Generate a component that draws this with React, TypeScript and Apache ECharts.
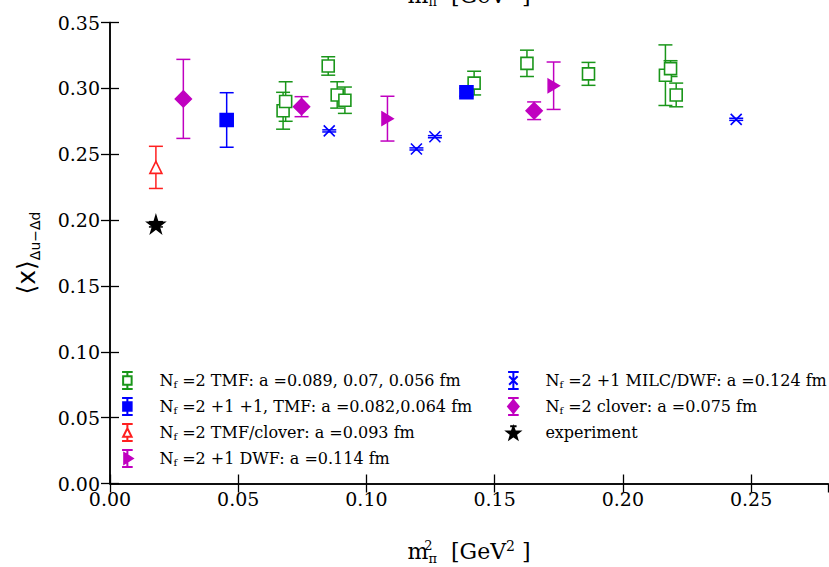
import React, { useEffect, useRef } from "react";
import * as echarts from "echarts";

// ---- data (x: m_pi^2 [GeV^2], y: <x>_{Δu-Δd}, err) ----
const tmfX = [0.0675, 0.0685, 0.0851, 0.0886, 0.0916, 0.142, 0.1626, 0.1866, 0.2166, 0.2186, 0.2208];
const tmfY = [0.283, 0.290, 0.317, 0.295, 0.291, 0.304, 0.319, 0.311, 0.310, 0.315, 0.295];
const tmfErr = [0.014, 0.015, 0.007, 0.010, 0.010, 0.009, 0.010, 0.0087, 0.023, 0.006, 0.009];

const tmf211X = [0.0455, 0.139];
const tmf211Y = [0.276, 0.297];
const tmf211Err = [0.0207, 0.003];

const tmfCloverX = [0.0179];
const tmfCloverY = [0.240];
const tmfCloverErr = [0.016];

const dwfX = [0.1082, 0.173];
const dwfY = [0.277, 0.302];
const dwfErr = [0.017, 0.018];

const milcX = [0.0855, 0.1195, 0.1267, 0.2442];
const milcY = [0.2677, 0.254, 0.2633, 0.2765];
const milcErr = [0.0008, 0.0008, 0.0008, 0.0008];

const cloverX = [0.0286, 0.0747, 0.1654];
const cloverY = [0.292, 0.2861, 0.283];
const cloverErr = [0.030, 0.0076, 0.0067];

const expX = [0.0179];
const expY = [0.1968];
const expErr = [0.002];

const xTicks = { min: 0, max: 0.28, interval: 0.05 };
const yTicks = { min: 0, max: 0.35, interval: 0.05 };

const names = [
  "Nf =2 TMF: a =0.089, 0.07, 0.056 fm",
  "Nf =2 +1 +1, TMF: a =0.082,0.064 fm",
  "Nf =2 TMF/clover: a =0.093 fm",
  "Nf =2 +1 DWF: a =0.114 fm",
  "Nf =2 +1 MILC/DWF: a =0.124 fm",
  "Nf =2 clover: a =0.075 fm",
  "experiment",
];

const GREEN = "#1a961a";
const BLUE = "#0000ff";
const RED = "#ff2020";
const MAG = "#c000c0";
const BLACK = "#000000";
const SERIF = "DejaVu Serif";

const STAR = "path://M50,0 L61,35 L98,35 L68,57 L79,91 L50,70 L21,91 L32,57 L2,35 L39,35 Z";
const XMARK = "path://M0,0 L10,10 M10,0 L0,10";
const RTRI = "path://M0,0 L10,6 L0,12 Z";

// every legend icon shares the same 12x16 bounding box
const FRAME = "M0,1 L0,1 M12,17 L12,17 ";
const BAR = "M1,1 L11,1 M6,1 L6,17 M1,17 L11,17 ";
const icons = [
  "path://" + FRAME + "M1,1 L11,1 M6,1 L6,5 M6,13 L6,17 M1,17 L11,17 M2,5 L10,5 L10,13 L2,13 Z",
  "path://" + FRAME + "M1,1 L11,1 M6,1 L6,5 M6,13 L6,17 M1,17 L11,17 M2,5 L10,5 L10,13 L2,13 Z",
  "path://" + FRAME + "M1,1 L11,1 M6,1 L6,5 M6,13 L6,17 M1,17 L11,17 M6,5 L10,13 L2,13 Z",
  "path://" + FRAME + BAR + "M3,4 L11,9 L3,14 Z",
  "path://" + FRAME + BAR + "M2,5 L10,13 M10,5 L2,13",
  "path://" + FRAME + BAR + "M6,3 L11,9 L6,15 L1,9 Z",
  "path://" + FRAME + "M3,3 L9,3 M6,3 L6,5 M6,3.8 L7.5,8 L11.9,8.1 L8.4,10.8 L9.6,15 L6,12.5 L2.4,15 L3.6,10.8 L0.1,8.1 L4.5,8 Z",
];

const zip = (xs: number[], ys: number[], es: number[]) => xs.map((x, i) => [x, ys[i], es[i]]);

const errRender = (color: string) => (params: any, api: any) => {
  const x = api.value(0);
  const y = api.value(1);
  const e = api.value(2);
  const top = api.coord([x, y + e]);
  const bot = api.coord([x, y - e]);
  const hw = 7;
  const style = { stroke: color, lineWidth: 1.5 };
  return {
    type: "group",
    children: [
      { type: "line", shape: { x1: top[0], y1: top[1], x2: bot[0], y2: bot[1] }, style },
      { type: "line", shape: { x1: top[0] - hw, y1: top[1], x2: top[0] + hw, y2: top[1] }, style },
      { type: "line", shape: { x1: bot[0] - hw, y1: bot[1], x2: bot[0] + hw, y2: bot[1] }, style },
    ],
  };
};

const xNameRich = {
  m: { fontFamily: SERIF, fontSize: 22, lineHeight: 26, verticalAlign: "middle", color: "#000" },
  sup: { fontFamily: SERIF, fontSize: 13, verticalAlign: "top", width: 0.1, color: "#000" },
  sub: { fontFamily: SERIF, fontSize: 13, verticalAlign: "bottom", color: "#000" },
  sup2: { fontFamily: SERIF, fontSize: 14, verticalAlign: "top", lineHeight: 24, color: "#000" },
};
const xNameText = "{m|m}{sup|2}{sub|π}{m|  [GeV}{sup2|2}{m| ]}";

export default function App() {
  const ref = useRef<HTMLDivElement>(null);
  useEffect(() => {
    if (!ref.current) return;
    const chart = echarts.init(ref.current, null, { renderer: "svg" });

    const groups = [
      { name: names[0], data: zip(tmfX, tmfY, tmfErr), color: GREEN, symbol: "rect", size: 12, fill: "#ffffff" },
      { name: names[1], data: zip(tmf211X, tmf211Y, tmf211Err), color: BLUE, symbol: "rect", size: 13, fill: BLUE },
      { name: names[2], data: zip(tmfCloverX, tmfCloverY, tmfCloverErr), color: RED, symbol: "triangle", size: 12, fill: "#ffffff" },
      { name: names[3], data: zip(dwfX, dwfY, dwfErr), color: MAG, symbol: RTRI, size: [11, 13], fill: MAG },
      { name: names[4], data: zip(milcX, milcY, milcErr), color: BLUE, symbol: XMARK, size: 11, fill: BLUE },
      { name: names[5], data: zip(cloverX, cloverY, cloverErr), color: MAG, symbol: "diamond", size: [16, 16], fill: MAG },
      { name: names[6], data: zip(expX, expY, expErr), color: BLACK, symbol: STAR, size: 17, fill: BLACK },
    ];

    const series: any[] = [];
    groups.forEach((g) => {
      series.push({
        type: "custom",
        renderItem: errRender(g.color),
        data: g.data,
        encode: { x: 0, y: 1 },
        z: 2,
        silent: true,
      });
    });
    groups.forEach((g) => {
      series.push({
        type: "scatter",
        name: g.name,
        data: g.data.map((d) => [d[0], d[1]]),
        symbol: g.symbol,
        symbolSize: g.size,
        itemStyle: { color: g.fill, borderColor: g.color, borderWidth: 1.6, opacity: 1 },
        z: 3,
      });
    });

    const legendFormatter = (n: string) => n.replace(/^Nf /, "N{s|f} ");
    const legendText = {
      fontFamily: SERIF,
      fontSize: 16,
      color: "#000",
      lineHeight: 17,
      rich: {
        s: { fontFamily: SERIF, fontSize: 10, verticalAlign: "bottom", color: "#000", lineHeight: 17 },
      },
    };
    const mkLegend = (idx: number[], left: number) => ({
      orient: "vertical",
      left,
      top: 371,
      itemWidth: 54,
      itemHeight: 17,
      itemGap: 7,
      padding: 0,
      selectedMode: false,
      formatter: legendFormatter,
      textStyle: legendText,
      data: idx.map((i) => ({ name: names[i], icon: icons[i] })),
    });

    const axisLine = { show: true, lineStyle: { color: "#000", width: 1.5 } };
    const tick = { show: true, inside: true, length: 9, lineStyle: { color: "#000", width: 1.3 } };

    chart.setOption({
      animation: false,
      backgroundColor: "#ffffff",
      grid: { left: 110, right: 1, top: 22.5, bottom: 83.5, containLabel: false, outerBoundsMode: "none" },
      legend: [mkLegend([0, 1, 2, 3], 120), mkLegend([4, 5, 6], 506)],
      xAxis: [
        {
          type: "value",
          ...xTicks,
          position: "bottom",
          axisLine,
          axisTick: tick,
          splitLine: { show: false },
          axisLabel: {
            fontFamily: SERIF,
            fontSize: 19,
            color: "#000",
            margin: 6,
            showMaxLabel: false,
            formatter: (v: number) => v.toFixed(2),
          },
          name: xNameText,
          nameLocation: "middle",
          nameGap: 55,
          nameTextStyle: { rich: xNameRich },
        },
        {
          type: "value",
          ...xTicks,
          position: "top",
          axisLine,
          axisTick: tick,
          axisLabel: { show: false },
          splitLine: { show: false },
        },
      ],
      yAxis: [
        {
          type: "value",
          ...yTicks,
          position: "left",
          axisLine,
          axisTick: tick,
          splitLine: { show: false },
          axisLabel: {
            fontFamily: SERIF,
            fontSize: 19,
            color: "#000",
            margin: 10,
            formatter: (v: number) => v.toFixed(2),
          },
          name: "{b|⟨x⟩}{s|Δu−Δd}",
          nameLocation: "middle",
          nameRotate: 90,
          nameGap: 68,
          nameTextStyle: {
            rich: {
              b: { fontFamily: "DejaVu Sans", fontSize: 25, lineHeight: 32, verticalAlign: "middle", color: "#000" },
              s: { fontFamily: "DejaVu Sans", fontSize: 14, verticalAlign: "bottom", color: "#000" },
            },
          },
        },
        {
          type: "value",
          ...yTicks,
          position: "right",
          axisLine,
          axisTick: tick,
          axisLabel: { show: false },
          splitLine: { show: false },
        },
      ],
      graphic: [
        {
          type: "text",
          x: 469,
          y: 8,
          silent: true,
          style: {
            text: xNameText,
            rich: xNameRich,
            textAlign: "center",
            textVerticalAlign: "bottom",
            fill: "#000",
          },
        },
      ],
      series,
    });
    return () => chart.dispose();
  }, []);

  return (
    <div
      ref={ref}
      style={{ position: "fixed", left: 0, top: 0, width: 829, height: 567, background: "#fff" }}
    />
  );
}
